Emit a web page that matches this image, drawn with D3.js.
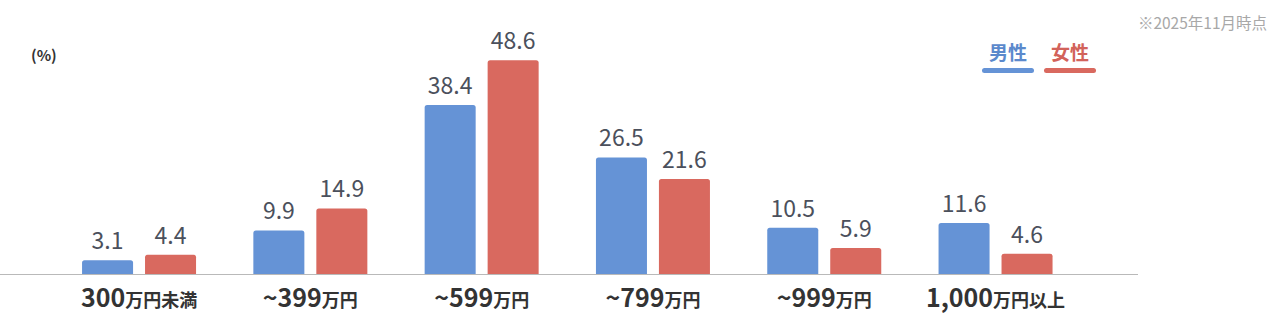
<!DOCTYPE html>
<html>
<head>
<meta charset="utf-8">
<script src="https://cdn.jsdelivr.net/npm/d3@7"></script>
<style>
  html, body { margin: 0; padding: 0; background: #fff; }
  svg { display: block; font-family: "Noto Sans CJK JP", "Noto Sans", sans-serif; }
</style>
</head>
<body>
<svg width="1280" height="333"></svg>
<script>
'use strict';
// 年収帯ごとの割合 (%)
var categories = ['300', '~399', '~599', '~799', '~999', '1,000'];
var suffixes = ['万円未満', '万円', '万円', '万円', '万円', '万円以上'];
var male = [3.1, 9.9, 38.4, 26.5, 10.5, 11.6];
var female = [4.4, 14.9, 48.6, 21.6, 5.9, 4.6];
var seriesNames = ['男性', '女性'];
var COLORS = ['#6593d6', '#d9695f'];
var LEGEND_COLORS = ['#5b89cc', '#d2625a'];

(() => {
  var svg = d3.select('svg');
  var baseY = 274;

  var x = d3.scaleBand()
    .domain(categories)
    .range([53.4, 1081.2])
    .padding(0);
  var x1 = d3.scaleBand()
    .domain(seriesNames)
    .range([-57, 57])
    .paddingInner(0.19);
  var y = d3.scaleLinear()
    .domain([0, 50])
    .range([baseY, baseY - 220]);

  var rows = categories.map((c, i) => ({
    cat: c,
    suffix: suffixes[i],
    values: [male[i], female[i]]
  }));

  // bars
  var g = svg.append('g').attr('id', 'bars');
  var groups = g.selectAll('g.grp').data(rows)
    .enter().append('g')
      .attr('class', 'grp')
      .attr('transform', d => `translate(${x(d.cat) + x.bandwidth() / 2}, 0)`);

  var cells = groups.selectAll('g.cell')
    .data(d => d.values.map((v, j) => ({ name: seriesNames[j], v: v, j: j })))
    .enter().append('g').attr('class', 'cell');

  cells.append('path')
    .attr('fill', d => COLORS[d.j])
    .attr('d', d => {
      var x0 = x1(d.name), w = x1.bandwidth();
      var top = y(d.v), r = 2.5;
      return `M${x0},${baseY}V${top + r}Q${x0},${top} ${x0 + r},${top}` +
        `H${x0 + w - r}Q${x0 + w},${top} ${x0 + w},${top + r}V${baseY}Z`;
    });

  cells.append('text')
    .attr('x', d => x1(d.name) + x1.bandwidth() / 2)
    .attr('y', d => y(d.v) - 11)
    .attr('text-anchor', 'middle')
    .attr('fill', '#4b505c')
    .style('font-size', '23px')
    .style('font-weight', 400)
    .text(d => d.v.toFixed(1));

  // axis line
  svg.append('line')
    .attr('x1', 0).attr('x2', 1138)
    .attr('y1', baseY + 0.5).attr('y2', baseY + 0.5)
    .attr('stroke', '#b9b9b9')
    .attr('stroke-width', 1);

  // category labels
  var lab = svg.append('g').selectAll('text').data(rows)
    .enter().append('text')
      .attr('x', d => x(d.cat) + x.bandwidth() / 2)
      .attr('y', 307)
      .attr('text-anchor', 'middle')
      .attr('fill', '#333')
      .style('font-weight', 700);
  lab.append('tspan').style('font-size', '25px').text(d => d.cat);
  lab.append('tspan').style('font-size', '18px').text(d => d.suffix);

  // unit
  svg.append('text')
    .attr('x', 31).attr('y', 61)
    .attr('fill', '#333')
    .style('font-size', '15px')
    .style('font-weight', 700)
    .text('(%)');

  // note
  svg.append('text')
    .attr('x', 1267).attr('y', 29)
    .attr('text-anchor', 'end')
    .attr('fill', '#a8a8a8')
    .style('font-size', '15.5px')
    .text('※2025年11月時点');

  // legend
  var leg = svg.append('g').selectAll('g').data(seriesNames)
    .enter().append('g')
      .attr('transform', (d, i) => `translate(${1008 + i * 62}, 0)`);
  leg.append('text')
    .attr('y', 60)
    .attr('text-anchor', 'middle')
    .attr('fill', (d, i) => LEGEND_COLORS[i])
    .style('font-size', '19px')
    .style('font-weight', 700)
    .text(d => d);
  leg.append('line')
    .attr('x1', -23.5).attr('x2', 23.5)
    .attr('y1', 70.5).attr('y2', 70.5)
    .attr('stroke', (d, i) => COLORS[i])
    .attr('stroke-width', 5)
    .attr('stroke-linecap', 'round');
})();
</script>
</body>
</html>
